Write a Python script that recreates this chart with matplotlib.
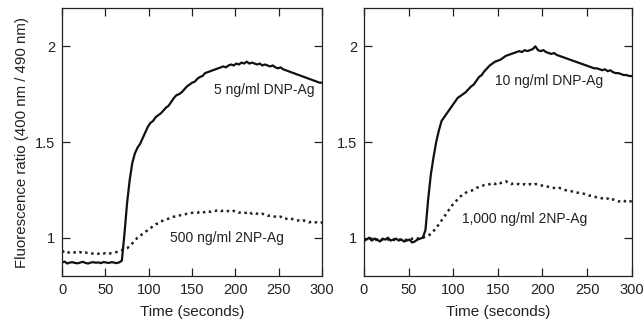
import numpy as np
import matplotlib
matplotlib.use("Agg")
import matplotlib.pyplot as plt

plt.rcParams['font.family'] = ['Liberation Sans', 'DejaVu Sans']

# time points, every 3 s
t = np.arange(0, 301, 3)

# left panel
dnp_5 = [0.87, 0.875, 0.865, 0.87, 0.872, 0.868, 0.866, 0.87, 0.874, 0.868, 0.865, 0.87,
         0.872, 0.869, 0.871, 0.867, 0.873, 0.87, 0.868, 0.872, 0.87, 0.867, 0.871,
         0.88, 1.02, 1.18, 1.30, 1.39, 1.44, 1.47, 1.49, 1.52, 1.55,
         1.58, 1.60, 1.61, 1.63, 1.64, 1.65, 1.665, 1.68, 1.69, 1.71,
         1.73, 1.745, 1.75, 1.76, 1.775, 1.79, 1.80, 1.81, 1.815, 1.83,
         1.84, 1.845, 1.86, 1.865, 1.87, 1.875, 1.88, 1.885, 1.89, 1.895,
         1.89, 1.90, 1.905, 1.90, 1.91, 1.905, 1.915, 1.91, 1.92, 1.91,
         1.915, 1.91, 1.905, 1.91, 1.90, 1.905, 1.90, 1.895, 1.90, 1.89,
         1.885, 1.89, 1.88, 1.875, 1.87, 1.865, 1.86, 1.855, 1.85, 1.845,
         1.84, 1.835, 1.83, 1.825, 1.82, 1.815, 1.81, 1.81]
np_500 = [0.925, 0.93, 0.92, 0.925, 0.928, 0.922, 0.92, 0.925, 0.918, 0.922, 0.92, 0.915,
          0.918, 0.92, 0.916, 0.922, 0.918, 0.92, 0.915, 0.92, 0.922, 0.925, 0.93,
          0.935, 0.94, 0.945, 0.955, 0.97, 0.985, 1.0, 1.01, 1.02, 1.03,
          1.04, 1.05, 1.06, 1.07, 1.075, 1.085, 1.09, 1.095, 1.10, 1.105,
          1.11, 1.11, 1.115, 1.12, 1.12, 1.125, 1.125, 1.13, 1.13, 1.13,
          1.135, 1.13, 1.135, 1.14, 1.135, 1.14, 1.14, 1.145, 1.14, 1.14,
          1.135, 1.14, 1.135, 1.14, 1.135, 1.13, 1.135, 1.13, 1.13, 1.135,
          1.125, 1.13, 1.125, 1.12, 1.125, 1.12, 1.115, 1.115, 1.11, 1.11,
          1.105, 1.11, 1.10, 1.10, 1.095, 1.10, 1.095, 1.09, 1.09, 1.085,
          1.09, 1.085, 1.08, 1.085, 1.08, 1.08, 1.075, 1.08]

# right panel
dnp_10 = [0.995, 0.99, 1.0, 0.985, 0.995, 0.99, 0.98, 0.995, 0.99, 1.0, 0.985, 0.99,
          0.995, 0.985, 0.99, 0.98, 0.985, 0.99, 0.975, 0.98, 0.99, 0.995, 1.0,
          1.04, 1.2, 1.33, 1.42, 1.50, 1.56, 1.61, 1.63, 1.65, 1.67,
          1.69, 1.71, 1.73, 1.74, 1.75, 1.76, 1.775, 1.79, 1.80, 1.82,
          1.84, 1.85, 1.87, 1.885, 1.90, 1.91, 1.92, 1.925, 1.93, 1.94,
          1.95, 1.955, 1.96, 1.965, 1.97, 1.975, 1.97, 1.98, 1.975, 1.98,
          1.985, 2.0, 1.98, 1.975, 1.98, 1.97, 1.965, 1.96, 1.965, 1.955,
          1.95, 1.945, 1.94, 1.935, 1.93, 1.925, 1.92, 1.915, 1.91, 1.905,
          1.90, 1.895, 1.89, 1.885, 1.885, 1.88, 1.875, 1.88, 1.87, 1.875,
          1.865, 1.86, 1.86, 1.855, 1.85, 1.85, 1.845, 1.845]
np_1000 = [0.99, 0.985, 0.99, 0.995, 0.985, 0.99, 0.985, 0.99, 0.985, 0.99, 0.995, 0.99,
           0.985, 0.99, 0.99, 0.985, 0.99, 0.99, 0.995, 0.99, 0.995, 1.0, 1.0,
           1.005, 1.01, 1.02, 1.035, 1.05, 1.07, 1.09, 1.11, 1.13, 1.15,
           1.17, 1.185, 1.20, 1.215, 1.225, 1.235, 1.24, 1.245, 1.25, 1.26,
           1.265, 1.27, 1.275, 1.275, 1.28, 1.285, 1.28, 1.29, 1.285, 1.29,
           1.295, 1.285, 1.28, 1.285, 1.28, 1.28, 1.275, 1.28, 1.275, 1.28,
           1.275, 1.28, 1.28, 1.275, 1.27, 1.27, 1.265, 1.26, 1.26, 1.255,
           1.26, 1.255, 1.25, 1.245, 1.245, 1.24, 1.235, 1.235, 1.23, 1.23,
           1.225, 1.22, 1.22, 1.215, 1.21, 1.21, 1.205, 1.20, 1.205, 1.195,
           1.20, 1.195, 1.19, 1.19, 1.195, 1.185, 1.19, 1.19]

fig = plt.figure(figsize=(6.44, 3.22), dpi=100)
ax1 = fig.add_axes([0.0963, 0.143, 0.404, 0.832])
ax2 = fig.add_axes([0.565, 0.143, 0.416, 0.832])

panels = [
    (ax1, dnp_5, np_500, "5 ng/ml DNP-Ag", (233, 1.77), "500 ng/ml 2NP-Ag", (190, 1.0)),
    (ax2, dnp_10, np_1000, "10 ng/ml DNP-Ag", (207, 1.82), "1,000 ng/ml 2NP-Ag", (180, 1.10)),
]

for ax, solid, dotted, lab1, pos1, lab2, pos2 in panels:
    ax.plot(t, dotted, color='#222222', lw=1.8, linestyle=(0, (1, 1.5)))
    ax.plot(t, solid, color='#111111', lw=1.6)
    ax.text(pos1[0], pos1[1], lab1, ha='center', va='center', fontsize=10, color='#222222')
    ax.text(pos2[0], pos2[1], lab2, ha='center', va='center', fontsize=10, color='#222222')
    ax.set_xlim(0, 300)
    ax.set_ylim(0.8, 2.2)
    ax.set_xticks([0, 50, 100, 150, 200, 250, 300])
    ax.set_yticks([1, 1.5, 2])
    ax.set_yticklabels(['1', '1.5', '2'])
    ax.tick_params(direction='in', length=6, width=0.9, top=True, right=True,
                   labelsize=10.5, colors='#222222', pad=5)
    for s in ax.spines.values():
        s.set_linewidth(0.9)
        s.set_color('#222222')
    ax.set_xlabel("Time (seconds)", fontsize=11, color='#222222', labelpad=6)

ax1.set_ylabel("Fluorescence ratio (400 nm / 490 nm)", fontsize=10.8, color='#222222', labelpad=4)

fig.savefig("out.png", dpi=100)
